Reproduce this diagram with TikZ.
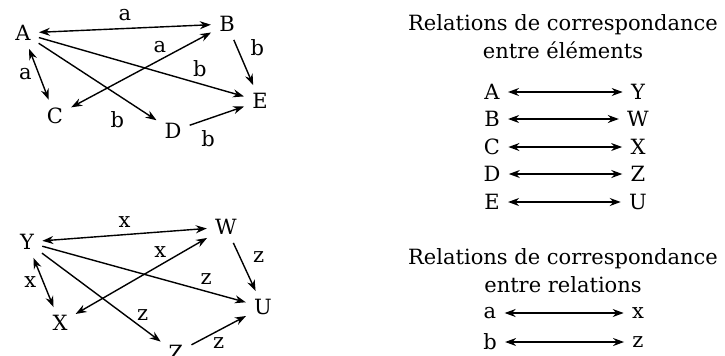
\documentclass[tikz,border=0pt]{standalone}
\usepackage{fontspec}
\setmainfont{DejaVu Serif}
\usetikzlibrary{arrows.meta}
\tikzset{
  elem/.style={inner sep=3pt},
  rel/.style={line width=0.7pt,-{Stealth[length=5.5pt,width=4pt]},shorten >=1pt,shorten <=1pt},
  birel/.style={rel,{Stealth[length=5.5pt,width=4pt]}-{Stealth[length=5.5pt,width=4pt]}},
  title/.style={align=center}
}

\begin{document}
\begin{tikzpicture}[x=0.5pt,y=-0.5pt,font=\fontsize{10.5}{14}\selectfont]
  \useasboundingbox (0,0) rectangle (725,355);
  \clip (0,0) rectangle (725,355);

  % First set
  \node[elem] (A) at (23,33) {A};
  \node[elem] (B) at (227,24) {B};
  \node[elem] (C) at (55,116) {C};
  \node[elem] (D) at (173,131) {D};
  \node[elem] (E) at (260,101) {E};

  % Relations a and b
  \draw[birel] (A) -- node[above] {a} (B);
  \draw[birel] (A) -- node[left] {a} (C);
  \draw[birel] (C) -- node[pos=0.63,above] {a} (B);
  \draw[rel] (A) -- node[pos=0.78,above] {b} (E);
  \draw[rel] (A) -- node[pos=0.78,below left] {b} (D);
  \draw[rel] (B) -- node[pos=0.2,right=3pt] {b} (E);
  \draw[rel] (D) -- node[pos=0.35,below=2pt] {b} (E);

  % Second set
  \node[elem] (Y) at (27,242) {Y};
  \node[elem] (W) at (226,227) {W};
  \node[elem] (X) at (60,323) {X};
  \node[elem] (Z) at (176,353) {Z};
  \node[elem] (U) at (263,307) {U};

  % Relations x and z
  \draw[birel] (Y) -- node[above] {x} (W);
  \draw[birel] (Y) -- node[left] {x} (X);
  \draw[birel] (X) -- node[pos=0.64,above] {x} (W);
  \draw[rel] (Y) -- node[pos=0.8,above] {z} (U);
  \draw[rel] (Y) -- node[pos=0.7,right=2pt] {z} (Z);
  \draw[rel] (W) -- node[pos=0.3,right=3pt] {z} (U);
  \draw[rel] (Z) -- node[below] {z} (U);

  % Correspondence between elements
  \node[title] (t1) at (563,37) {Relations de correspondance\\entre éléments};
  \foreach \l/\r/\y [count=\i] in {A/Y/92,B/W/119,C/X/147,D/Z/174,E/U/202} {
    \node[elem] (l\i) at (492,\y) {\l};
    \node[elem] (r\i) at (638,\y) {\r};
    \draw[birel] (l\i) -- (r\i);
  }

  % Correspondence between relations
  \node[title] (t2) at (563,271) {Relations de correspondance\\entre relations};
  \foreach \l/\r/\y [count=\i] in {a/x/313,b/z/342} {
    \node[elem] (m\i) at (490,\y) {\l};
    \node[elem] (n\i) at (638,\y) {\r};
    \draw[birel] (m\i) -- (n\i);
  }
\end{tikzpicture}
\end{document}
